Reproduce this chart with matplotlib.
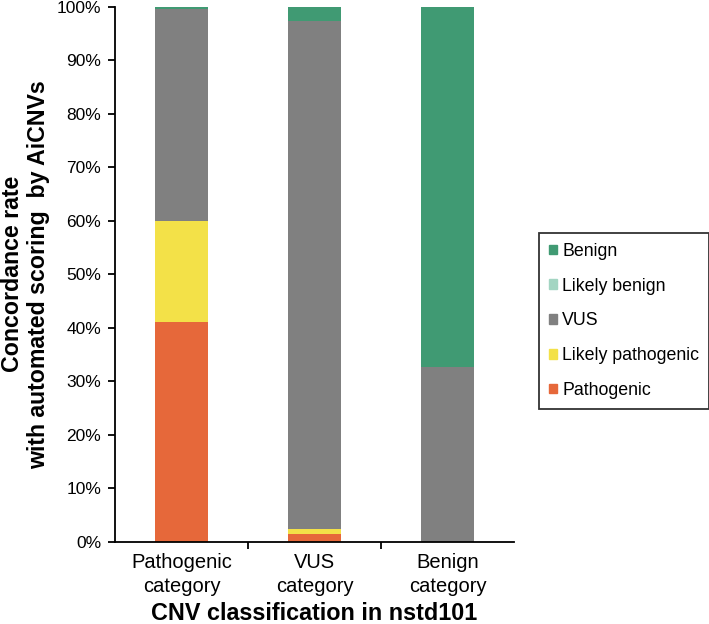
import matplotlib.pyplot as plt
from matplotlib.patches import Patch

plt.rcParams['font.family'] = ['Liberation Sans', 'DejaVu Sans']

# data (percent)
categories = ['Pathogenic\ncategory', 'VUS\ncategory', 'Benign\ncategory']
pathogenic = [41.1, 1.5, 0.0]
likely_pathogenic = [18.8, 1.0, 0.0]
vus = [39.7, 94.9, 32.6]
likely_benign = [0.0, 0.0, 0.0]
benign = [0.4, 2.6, 67.4]

series = [
    ('Pathogenic', pathogenic, '#E6683A'),
    ('Likely pathogenic', likely_pathogenic, '#F3E148'),
    ('VUS', vus, '#808080'),
    ('Likely benign', likely_benign, '#A3D5C2'),
    ('Benign', benign, '#409A73'),
]

fig = plt.figure(figsize=(7.09, 6.24), dpi=100)
ax = fig.add_axes([115/709, 1-542/624, (514-115)/709, (542-6.7)/624])

x = range(len(categories))
bottom = [0, 0, 0]
for name, vals, col in series:
    ax.bar(x, vals, width=0.4, bottom=bottom, color=col, label=name)
    bottom = [b + v for b, v in zip(bottom, vals)]

ax.set_xlim(-0.5, 2.5)
ax.set_ylim(0, 100)
ax.set_yticks(range(0, 101, 10))
ax.set_yticklabels([f'{v}%' for v in range(0, 101, 10)], fontsize=12.5)
# separator ticks between categories, labels as minor ticks at centres
ax.set_xticks([0.5, 1.5], minor=False)
ax.set_xticklabels([])
ax.set_xticks(list(x), minor=True)
ax.set_xticklabels(categories, minor=True, fontsize=14.5, linespacing=1.3)
ax.tick_params(axis='x', which='minor', length=0, pad=8)
ax.tick_params(axis='x', which='major', length=5, width=1.3, direction='out')
ax.tick_params(axis='y', length=5, width=1.3, direction='out', pad=5)
for s in ['top', 'right']:
    ax.spines[s].set_visible(False)
for s in ['left', 'bottom']:
    ax.spines[s].set_linewidth(1.3)

ax.set_ylabel('Concordance rate\nwith automated scoring  by AiCNVs',
              fontsize=16.7, fontweight='bold', linespacing=1.15)
ax.yaxis.label.set_verticalalignment('top')
ax.yaxis.set_label_coords(-114/399, 0.5)
ax.set_xlabel('CNV classification in nstd101', fontsize=16.8,
              fontweight='bold')
ax.xaxis.label.set_verticalalignment('baseline')
ax.xaxis.set_label_coords(0.5, -(620-542)/535)

handles = [Patch(color=c, label=n) for n, v, c in series[::-1]]
leg = fig.legend(handles=handles, loc='upper left',
                 bbox_to_anchor=(539/709, 1-233/624), fontsize=12.8,
                 frameon=True, fancybox=False, edgecolor='black',
                 handlelength=0.45, handleheight=0.45, handletextpad=0.3,
                 labelspacing=1.0, borderpad=0.55, borderaxespad=0)
leg.get_frame().set_linewidth(1.3)

fig.savefig('out.png', dpi=100)
